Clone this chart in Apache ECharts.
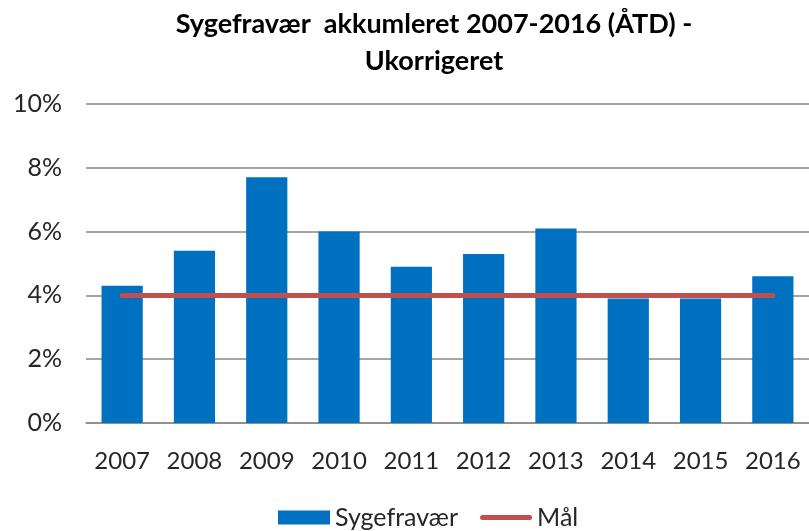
<!DOCTYPE html>
<html>
<head>
<meta charset="utf-8">
<script src="https://cdn.jsdelivr.net/npm/echarts@6/dist/echarts.min.js"></script>
<style>
  html, body { margin: 0; padding: 0; background: #fff; }
  #chart { width: 809px; height: 531px; }
</style>
</head>
<body>
<div id="chart"></div>
<script>
const years = ['2007', '2008', '2009', '2010', '2011', '2012', '2013', '2014', '2015', '2016']
const sygefravaer = [4.3, 5.4, 7.7, 6.0, 4.9, 5.3, 6.1, 3.9, 3.9, 4.6]
const maal = [4, 4, 4, 4, 4, 4, 4, 4, 4, 4]
const yTicks = [0, 2, 4, 6, 8, 10]

const font = 'Lato, "Open Sans", sans-serif'
const chart = echarts.init(document.getElementById('chart'))

chart.setOption({
  animation: false,
  textStyle: { fontFamily: font },
  title: {
    text: 'Sygefravær  akkumleret 2007-2016 (ÅTD) -\nUkorrigeret',
    left: 429,
    top: 1,
    textAlign: 'center',
    textStyle: { fontSize: 27, fontWeight: 'bold', color: '#000', lineHeight: 37, fontFamily: font }
  },
  grid: { left: 86, right: 0, top: 104, bottom: 108 },
  xAxis: {
    type: 'category',
    data: years,
    axisTick: { show: false },
    axisLine: { lineStyle: { color: '#898989', width: 1.5 } },
    axisLabel: { interval: 0, color: '#262626', fontSize: 24, margin: 26, fontFamily: font }
  },
  yAxis: {
    type: 'value',
    min: yTicks[0],
    max: yTicks[yTicks.length - 1],
    interval: 2,
    axisLabel: { formatter: '{value}%', color: '#262626', fontSize: 25, margin: 24, fontFamily: font },
    splitLine: { lineStyle: { color: '#898989', width: 1.5 } }
  },
  legend: {
    bottom: -4,
    left: 273,
    itemWidth: 52,
    itemHeight: 14,
    itemGap: 22,
    textStyle: { fontSize: 25, color: '#262626', fontFamily: font },
    data: [
      { name: 'Sygefravær', icon: 'rect' },
      {
        name: 'Mål',
        icon: 'path://M2.5,0 H49.5 A2.5,2.5 0 0 1 49.5,5 H2.5 A2.5,2.5 0 0 1 2.5,0 Z',
        itemStyle: { color: '#C0504D' }
      }
    ]
  },
  series: [
    {
      name: 'Sygefravær',
      type: 'bar',
      data: sygefravaer,
      barCategoryGap: '43%',
      itemStyle: { color: '#0070C0' }
    },
    {
      name: 'Mål',
      type: 'line',
      data: maal,
      symbol: 'none',
      lineStyle: { color: '#C0504D', width: 5, cap: 'round' },
      itemStyle: { color: '#C0504D' }
    }
  ]
})
</script>
</body>
</html>
